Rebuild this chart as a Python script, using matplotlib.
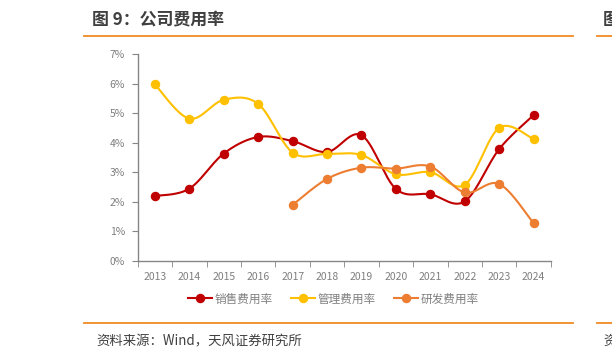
import numpy as np
import matplotlib
matplotlib.use("Agg")
import matplotlib.pyplot as plt
from matplotlib.lines import Line2D

plt.rcParams['font.family'] = ['Noto Sans CJK SC', 'DejaVu Sans']

# ---- data ----
years = ['2013', '2014', '2015', '2016', '2017', '2018', '2019', '2020', '2021', '2022', '2023', '2024']
sales_rate = [2.19, 2.44, 3.63, 4.19, 4.05, 3.68, 4.25, 2.43, 2.25, 2.01, 3.78, 4.93]
admin_rate = [5.97, 4.81, 5.45, 5.31, 3.66, 3.62, 3.58, 2.93, 3.00, 2.57, 4.50, 4.12]
rd_years = ['2017', '2018', '2019', '2020', '2021', '2022', '2023', '2024']
rd_rate = [1.89, 2.77, 3.15, 3.12, 3.19, 2.31, 2.60, 1.27]
series_names = ['销售费用率', '管理费用率', '研发费用率']
colors = ['#C00000', '#FFC000', '#ED7D31']


def smooth(xs, ys, n=30):
    # Excel-style smoothed line: cubic Bezier with tangents (P[i+1]-P[i-1])/6
    pts = np.column_stack([xs, ys]).astype(float)
    out = [pts[0]]
    t = np.linspace(0, 1, n)[1:, None]
    for i in range(len(pts) - 1):
        p0 = pts[max(i - 1, 0)]
        p1 = pts[i]
        p2 = pts[i + 1]
        p3 = pts[min(i + 2, len(pts) - 1)]
        c1 = p1 + (p2 - p0) / 6
        c2 = p2 - (p3 - p1) / 6
        seg = ((1 - t) ** 3) * p1 + 3 * ((1 - t) ** 2) * t * c1 + 3 * (1 - t) * t ** 2 * c2 + t ** 3 * p2
        out.extend(seg)
    out = np.array(out)
    return out[:, 0], out[:, 1]


fig = plt.figure(figsize=(6.12, 3.59), dpi=100)
ax = fig.add_axes([0.225, 0.2738, 0.675, 0.5758])

x_all = np.arange(len(years))
x_rd = np.array([years.index(y) for y in rd_years])
data = [(x_all, sales_rate), (x_all, admin_rate), (x_rd, rd_rate)]

for (xs, ys), c in zip(data, colors):
    vals = np.array(ys) / 100
    sx, sy = smooth(xs, vals)
    ax.plot(sx, sy, color=c, lw=1.5, zorder=2)
    ax.plot(xs, vals, 'o', color=c, ms=5.8, zorder=3)

ax.set_xlim(-0.5, len(years) - 0.5)
ax.set_ylim(0, 0.07)
ax.set_yticks(np.arange(0, 0.071, 0.01))
ax.set_yticklabels([f'{i}%' for i in range(8)])
ax.set_xticks(x_all)
ax.set_xticklabels(years)
ax.set_xticks(np.arange(-0.5, len(years)), minor=True)

axis_col = '#868686'
for s in ['top', 'right']:
    ax.spines[s].set_visible(False)
for s in ['left', 'bottom']:
    ax.spines[s].set_color(axis_col)
    ax.spines[s].set_linewidth(1.0)
ax.tick_params(axis='y', length=4, color=axis_col, labelcolor='#7f7f7f', labelsize=7.5, pad=5)
ax.tick_params(axis='x', which='major', length=0, labelcolor='#7f7f7f', labelsize=7.5, pad=8)
ax.tick_params(axis='x', which='minor', length=4, color=axis_col, direction='out')

handles = [Line2D([], [], color=c, lw=1.5, marker='o', ms=5.8) for c in colors]
fig.legend(handles, series_names, loc='center', bbox_to_anchor=(0.545, 1 - 299 / 359), ncol=3,
           frameon=False, fontsize=8.4, labelcolor='#7f7f7f', handlelength=2.0,
           handletextpad=0.25, columnspacing=1.6)

# header / footer
orange = '#F08A24'
fig.text(92 / 612, 1 - 20.5 / 359, '图 9：公司费用率', fontsize=12.2, fontweight='bold',
         color='#3f3f3f', va='center', ha='left')
fig.add_artist(Line2D([84 / 612, 573 / 612], [1 - 36 / 359] * 2, color=orange, lw=1.3))
fig.add_artist(Line2D([597 / 612, 1.0], [1 - 36 / 359] * 2, color=orange, lw=1.3))
# partial text of the neighbouring panel, cut off at the right edge as in the source page
fig.text(603 / 612, 1 - 20.5 / 359, '图', fontsize=12.2, fontweight='bold',
         color='#3f3f3f', va='center', ha='left')
fig.add_artist(Line2D([84 / 612, 573 / 612], [1 - 323 / 359] * 2, color=orange, lw=1.3))
fig.add_artist(Line2D([597 / 612, 1.0], [1 - 323 / 359] * 2, color=orange, lw=1.3))
fig.text(96 / 612, 1 - 341 / 359, '资料来源：Wind，天风证券研究所', fontsize=9.6,
         color='#404040', va='center', ha='left')
fig.text(603 / 612, 1 - 341 / 359, '资', fontsize=9.6, color='#404040', va='center', ha='left')

fig.savefig('out.png', dpi=100)
